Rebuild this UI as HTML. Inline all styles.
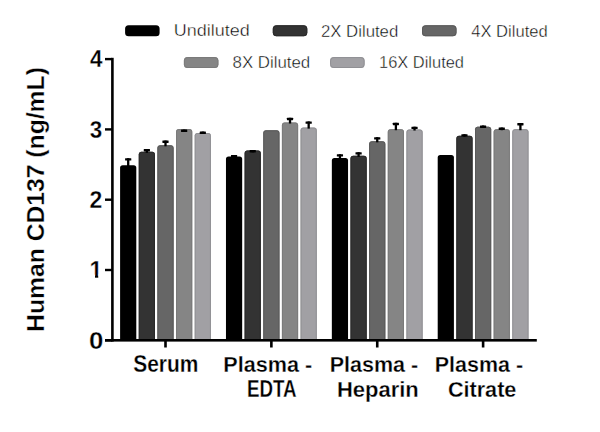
<!DOCTYPE html>
<html><head><meta charset="utf-8"><style>
html,body{margin:0;padding:0;background:#fff;width:600px;height:432px;overflow:hidden}
svg{display:block}
.b{font-family:"Liberation Sans",Arial,sans-serif;font-weight:bold;fill:#000;stroke:#fff;stroke-width:0.3px}
.r{font-family:"Liberation Sans",Arial,sans-serif;font-weight:normal;fill:#000;stroke:#fff;stroke-width:0.4px}
</style></head><body>
<svg width="600" height="432" viewBox="0 0 600 432">
<rect width="600" height="432" fill="#fff"/>
<path d="M120.10 340.30V167.80Q120.10 165.20 122.70 165.20H133.70Q136.30 165.20 136.30 167.80V340.30Z" fill="#000000"/>
<path d="M138.75 340.30V154.40Q138.75 151.80 141.35 151.80H152.35Q154.95 151.80 154.95 154.40V340.30Z" fill="#333333"/>
<path d="M139.25 340.30V154.40Q139.25 152.30 141.35 152.30H152.35Q154.45 152.30 154.45 154.40V340.30" fill="none" stroke="#2a2a2a" stroke-width="1"/>
<path d="M157.40 340.30V147.90Q157.40 145.30 160.00 145.30H171.00Q173.60 145.30 173.60 147.90V340.30Z" fill="#666666"/>
<path d="M157.90 340.30V147.90Q157.90 145.80 160.00 145.80H171.00Q173.10 145.80 173.10 147.90V340.30" fill="none" stroke="#5a5a5a" stroke-width="1"/>
<path d="M176.05 340.30V131.70Q176.05 129.10 178.65 129.10H189.65Q192.25 129.10 192.25 131.70V340.30Z" fill="#858585"/>
<path d="M176.55 340.30V131.70Q176.55 129.60 178.65 129.60H189.65Q191.75 129.60 191.75 131.70V340.30" fill="none" stroke="#7a7a7a" stroke-width="1"/>
<path d="M194.70 340.30V135.60Q194.70 133.00 197.30 133.00H208.30Q210.90 133.00 210.90 135.60V340.30Z" fill="#a1a0a4"/>
<path d="M195.20 340.30V135.60Q195.20 133.50 197.30 133.50H208.30Q210.40 133.50 210.40 135.60V340.30" fill="none" stroke="#909094" stroke-width="1"/>
<path d="M225.97 340.30V159.00Q225.97 156.40 228.57 156.40H239.57Q242.17 156.40 242.17 159.00V340.30Z" fill="#000000"/>
<path d="M244.62 340.30V153.10Q244.62 150.50 247.22 150.50H258.22Q260.82 150.50 260.82 153.10V340.30Z" fill="#333333"/>
<path d="M245.12 340.30V153.10Q245.12 151.00 247.22 151.00H258.22Q260.32 151.00 260.32 153.10V340.30" fill="none" stroke="#2a2a2a" stroke-width="1"/>
<path d="M263.27 340.30V132.90Q263.27 130.30 265.87 130.30H276.87Q279.47 130.30 279.47 132.90V340.30Z" fill="#666666"/>
<path d="M263.77 340.30V132.90Q263.77 130.80 265.87 130.80H276.87Q278.97 130.80 278.97 132.90V340.30" fill="none" stroke="#5a5a5a" stroke-width="1"/>
<path d="M281.92 340.30V125.10Q281.92 122.50 284.52 122.50H295.52Q298.12 122.50 298.12 125.10V340.30Z" fill="#858585"/>
<path d="M282.42 340.30V125.10Q282.42 123.00 284.52 123.00H295.52Q297.62 123.00 297.62 125.10V340.30" fill="none" stroke="#7a7a7a" stroke-width="1"/>
<path d="M300.57 340.30V130.20Q300.57 127.60 303.17 127.60H314.17Q316.77 127.60 316.77 130.20V340.30Z" fill="#a1a0a4"/>
<path d="M301.07 340.30V130.20Q301.07 128.10 303.17 128.10H314.17Q316.27 128.10 316.27 130.20V340.30" fill="none" stroke="#909094" stroke-width="1"/>
<path d="M331.84 340.30V160.60Q331.84 158.00 334.44 158.00H345.44Q348.04 158.00 348.04 160.60V340.30Z" fill="#000000"/>
<path d="M350.49 340.30V158.40Q350.49 155.80 353.09 155.80H364.09Q366.69 155.80 366.69 158.40V340.30Z" fill="#333333"/>
<path d="M350.99 340.30V158.40Q350.99 156.30 353.09 156.30H364.09Q366.19 156.30 366.19 158.40V340.30" fill="none" stroke="#2a2a2a" stroke-width="1"/>
<path d="M369.14 340.30V143.90Q369.14 141.30 371.74 141.30H382.74Q385.34 141.30 385.34 143.90V340.30Z" fill="#666666"/>
<path d="M369.64 340.30V143.90Q369.64 141.80 371.74 141.80H382.74Q384.84 141.80 384.84 143.90V340.30" fill="none" stroke="#5a5a5a" stroke-width="1"/>
<path d="M387.79 340.30V131.80Q387.79 129.20 390.39 129.20H401.39Q403.99 129.20 403.99 131.80V340.30Z" fill="#858585"/>
<path d="M388.29 340.30V131.80Q388.29 129.70 390.39 129.70H401.39Q403.49 129.70 403.49 131.80V340.30" fill="none" stroke="#7a7a7a" stroke-width="1"/>
<path d="M406.44 340.30V132.10Q406.44 129.50 409.04 129.50H420.04Q422.64 129.50 422.64 132.10V340.30Z" fill="#a1a0a4"/>
<path d="M406.94 340.30V132.10Q406.94 130.00 409.04 130.00H420.04Q422.14 130.00 422.14 132.10V340.30" fill="none" stroke="#909094" stroke-width="1"/>
<path d="M437.71 340.30V157.60Q437.71 155.00 440.31 155.00H451.31Q453.91 155.00 453.91 157.60V340.30Z" fill="#000000"/>
<path d="M456.36 340.30V138.40Q456.36 135.80 458.96 135.80H469.96Q472.56 135.80 472.56 138.40V340.30Z" fill="#333333"/>
<path d="M456.86 340.30V138.40Q456.86 136.30 458.96 136.30H469.96Q472.06 136.30 472.06 138.40V340.30" fill="none" stroke="#2a2a2a" stroke-width="1"/>
<path d="M475.01 340.30V129.30Q475.01 126.70 477.61 126.70H488.61Q491.21 126.70 491.21 129.30V340.30Z" fill="#666666"/>
<path d="M475.51 340.30V129.30Q475.51 127.20 477.61 127.20H488.61Q490.71 127.20 490.71 129.30V340.30" fill="none" stroke="#5a5a5a" stroke-width="1"/>
<path d="M493.66 340.30V131.80Q493.66 129.20 496.26 129.20H507.26Q509.86 129.20 509.86 131.80V340.30Z" fill="#858585"/>
<path d="M494.16 340.30V131.80Q494.16 129.70 496.26 129.70H507.26Q509.36 129.70 509.36 131.80V340.30" fill="none" stroke="#7a7a7a" stroke-width="1"/>
<path d="M512.31 340.30V131.80Q512.31 129.20 514.91 129.20H525.91Q528.51 129.20 528.51 131.80V340.30Z" fill="#a1a0a4"/>
<path d="M512.81 340.30V131.80Q512.81 129.70 514.91 129.70H525.91Q528.01 129.70 528.01 131.80V340.30" fill="none" stroke="#909094" stroke-width="1"/>
<rect x="127.05" y="158.20" width="2.3" height="8.00" fill="#000"/>
<rect x="125.10" y="158.20" width="6.2" height="2.4" rx="0.35" fill="#000"/>
<rect x="145.70" y="149.00" width="2.3" height="3.80" fill="#000"/>
<rect x="143.75" y="149.00" width="6.2" height="2.4" rx="0.35" fill="#000"/>
<rect x="164.35" y="140.50" width="2.3" height="5.80" fill="#000"/>
<rect x="162.40" y="140.50" width="6.2" height="2.4" rx="0.35" fill="#000"/>
<rect x="183.00" y="129.60" width="2.3" height="2.40" fill="#000"/>
<rect x="181.05" y="129.60" width="6.2" height="2.4" rx="0.35" fill="#000"/>
<rect x="201.65" y="131.60" width="2.3" height="2.40" fill="#000"/>
<rect x="199.70" y="131.60" width="6.2" height="2.4" rx="0.35" fill="#000"/>
<rect x="232.92" y="155.00" width="2.3" height="2.40" fill="#000"/>
<rect x="230.97" y="155.00" width="6.2" height="2.4" rx="0.35" fill="#000"/>
<rect x="251.57" y="150.00" width="2.3" height="2.40" fill="#000"/>
<rect x="249.62" y="150.00" width="6.2" height="2.4" rx="0.35" fill="#000"/>
<rect x="288.87" y="117.80" width="2.3" height="5.70" fill="#000"/>
<rect x="286.92" y="117.80" width="6.2" height="2.4" rx="0.35" fill="#000"/>
<rect x="307.52" y="121.40" width="2.3" height="7.20" fill="#000"/>
<rect x="305.57" y="121.40" width="6.2" height="2.4" rx="0.35" fill="#000"/>
<rect x="338.79" y="154.20" width="2.3" height="4.80" fill="#000"/>
<rect x="336.84" y="154.20" width="6.2" height="2.4" rx="0.35" fill="#000"/>
<rect x="357.44" y="152.20" width="2.3" height="4.60" fill="#000"/>
<rect x="355.49" y="152.20" width="6.2" height="2.4" rx="0.35" fill="#000"/>
<rect x="376.09" y="137.20" width="2.3" height="5.10" fill="#000"/>
<rect x="374.14" y="137.20" width="6.2" height="2.4" rx="0.35" fill="#000"/>
<rect x="394.74" y="122.80" width="2.3" height="7.40" fill="#000"/>
<rect x="392.79" y="122.80" width="6.2" height="2.4" rx="0.35" fill="#000"/>
<rect x="413.39" y="126.70" width="2.3" height="3.80" fill="#000"/>
<rect x="411.44" y="126.70" width="6.2" height="2.4" rx="0.35" fill="#000"/>
<rect x="463.31" y="134.20" width="2.3" height="2.60" fill="#000"/>
<rect x="461.36" y="134.20" width="6.2" height="2.4" rx="0.35" fill="#000"/>
<rect x="481.96" y="125.50" width="2.3" height="2.40" fill="#000"/>
<rect x="480.01" y="125.50" width="6.2" height="2.4" rx="0.35" fill="#000"/>
<rect x="500.61" y="127.50" width="2.3" height="2.70" fill="#000"/>
<rect x="498.66" y="127.50" width="6.2" height="2.4" rx="0.35" fill="#000"/>
<rect x="519.26" y="123.00" width="2.3" height="7.20" fill="#000"/>
<rect x="517.31" y="123.00" width="6.2" height="2.4" rx="0.35" fill="#000"/>
<rect x="111.1" y="57.8" width="2.6" height="283.8" fill="#000"/>
<rect x="105" y="339.0" width="431.8" height="2.6" fill="#000"/>
<rect x="105" y="339.10" width="7" height="2.4" fill="#000"/>
<rect x="105" y="268.80" width="7" height="2.4" fill="#000"/>
<rect x="105" y="198.50" width="7" height="2.4" fill="#000"/>
<rect x="105" y="128.20" width="7" height="2.4" fill="#000"/>
<rect x="105" y="57.90" width="7" height="2.4" fill="#000"/>
<rect x="164.20" y="340" width="2.6" height="7.5" fill="#000"/>
<rect x="270.07" y="340" width="2.6" height="7.5" fill="#000"/>
<rect x="375.94" y="340" width="2.6" height="7.5" fill="#000"/>
<rect x="481.81" y="340" width="2.6" height="7.5" fill="#000"/>
<text id="t0" x="89.11" y="349.00" class="b" font-size="23.20" textLength="14.41" lengthAdjust="spacingAndGlyphs">0</text>
<clipPath id="c1"><path d="M80 247.60H110V274.43H98.20V279.60H95.01V274.43H80Z"/></clipPath>
<text id="t1" x="89.60" y="277.60" class="b" font-size="23.20" clip-path="url(#c1)">1</text>
<text id="t2" x="89.41" y="208.00" class="b" font-size="23.20" textLength="12.80" lengthAdjust="spacingAndGlyphs">2</text>
<text id="t3" x="89.68" y="138.00" class="b" font-size="23.20" textLength="12.49" lengthAdjust="spacingAndGlyphs">3</text>
<text id="t4" x="89.93" y="67.00" class="b" font-size="23.20" textLength="12.50" lengthAdjust="spacingAndGlyphs">4</text>
<text id="c00" x="133.19" y="372.00" class="b" font-size="24.00" textLength="65.18" lengthAdjust="spacingAndGlyphs">Serum</text>
<text id="c10" x="223.32" y="372.00" class="b" font-size="22.50" textLength="88.95" lengthAdjust="spacingAndGlyphs">Plasma -</text>
<text id="c11" x="246.90" y="397.00" class="b" font-size="23.40" textLength="49.67" lengthAdjust="spacingAndGlyphs">EDTA</text>
<text id="c20" x="329.76" y="372.00" class="b" font-size="22.50" textLength="88.48" lengthAdjust="spacingAndGlyphs">Plasma -</text>
<text id="c21" x="336.88" y="397.00" class="b" font-size="22.50" textLength="81.88" lengthAdjust="spacingAndGlyphs">Heparin</text>
<text id="c30" x="434.81" y="372.00" class="b" font-size="22.50" textLength="88.28" lengthAdjust="spacingAndGlyphs">Plasma -</text>
<text id="c31" x="447.92" y="397.00" class="b" font-size="22.50" textLength="68.45" lengthAdjust="spacingAndGlyphs">Citrate</text>
<rect x="125.1" y="25.30" width="34.5" height="10.9" rx="3.5" fill="#000000"/>
<text id="l0" x="173.77" y="36.00" class="r" font-size="16.00" textLength="75.99" lengthAdjust="spacingAndGlyphs">Undiluted</text>
<rect x="272.8" y="25.30" width="34.5" height="10.9" rx="3.5" fill="#333333"/>
<rect x="273.30" y="25.80" width="33.5" height="9.9" rx="3" fill="none" stroke="#2a2a2a" stroke-width="1"/>
<text id="l1" x="320.96" y="37.00" class="r" font-size="16.00" textLength="77.28" lengthAdjust="spacingAndGlyphs">2X Diluted</text>
<rect x="422.0" y="25.30" width="34.5" height="10.9" rx="3.5" fill="#666666"/>
<rect x="422.50" y="25.80" width="33.5" height="9.9" rx="3" fill="none" stroke="#5a5a5a" stroke-width="1"/>
<text id="l2" x="471.22" y="37.00" class="r" font-size="16.00" textLength="76.46" lengthAdjust="spacingAndGlyphs">4X Diluted</text>
<rect x="183.9" y="57.10" width="34.5" height="10.9" rx="3.5" fill="#858585"/>
<rect x="184.40" y="57.60" width="33.5" height="9.9" rx="3" fill="none" stroke="#7a7a7a" stroke-width="1"/>
<text id="l3" x="232.53" y="68.00" class="r" font-size="16.00" textLength="77.72" lengthAdjust="spacingAndGlyphs">8X Diluted</text>
<rect x="330.1" y="57.10" width="34.5" height="10.9" rx="3.5" fill="#a1a0a4"/>
<rect x="330.60" y="57.60" width="33.5" height="9.9" rx="3" fill="none" stroke="#909094" stroke-width="1"/>
<text id="l4" x="379.02" y="68.00" class="r" font-size="16.00" textLength="85.00" lengthAdjust="spacingAndGlyphs">16X Diluted</text>
<text id="ylab" transform="translate(43.74 331.93) rotate(-90)" x="0" y="0" class="b" font-size="24.00" textLength="264.82" lengthAdjust="spacingAndGlyphs">Human CD137 (ng/mL)</text>
</svg>
</body></html>
